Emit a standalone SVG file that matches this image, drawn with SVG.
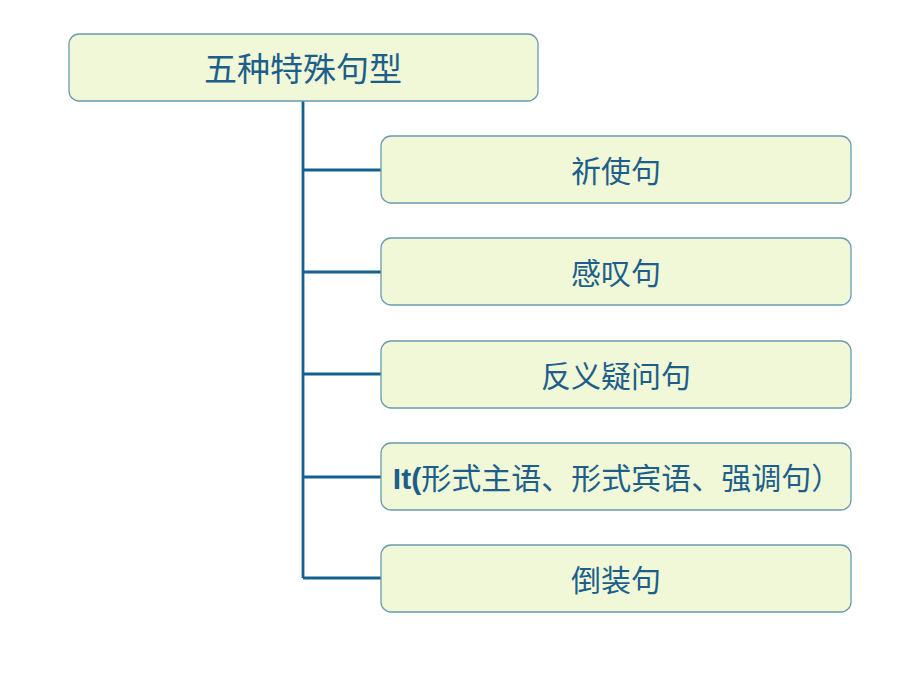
<svg xmlns="http://www.w3.org/2000/svg" width="920" height="690" viewBox="0 0 920 690">
<style>
.box{fill:#f0f8d8;stroke:#6a9ab0;stroke-width:1.3}
.t{font-family:"Liberation Sans","Noto Sans CJK SC",sans-serif;fill:#1d5f8a;text-anchor:middle;dominant-baseline:central}
.c{fill:none;stroke:#15608f;stroke-width:2.8}
</style>
<rect width="920" height="690" fill="#ffffff"/>
<g id="connectors">
<path class="c" d="M303 101 V578"/>
<path class="c" d="M303 170 H381 M303 272 H381 M303 374 H381 M303 477 H381 M303 578 H381"/>
</g>
<g id="root"><rect class="box" x="69" y="34" width="469" height="67" rx="10"/><text class="t" x="303" y="69" font-size="33">五种特殊句型</text></g>
<g id="n1"><rect class="box" x="381" y="136" width="470" height="67" rx="10"/><text class="t" x="616" y="171" font-size="30">祈使句</text></g>
<g id="n2"><rect class="box" x="381" y="238" width="470" height="67" rx="10"/><text class="t" x="616" y="273" font-size="30">感叹句</text></g>
<g id="n3"><rect class="box" x="381" y="341" width="470" height="67" rx="10"/><text class="t" x="616" y="376" font-size="30">反义疑问句</text></g>
<g id="n4"><rect class="box" x="381" y="443" width="470" height="67" rx="10"/><text class="t" x="617" y="478" font-size="30"><tspan font-weight="bold">It(</tspan>形式主语、形式宾语、强调句）</text></g>
<g id="n5"><rect class="box" x="381" y="545" width="470" height="67" rx="10"/><text class="t" x="616" y="580" font-size="30">倒装句</text></g>
</svg>
